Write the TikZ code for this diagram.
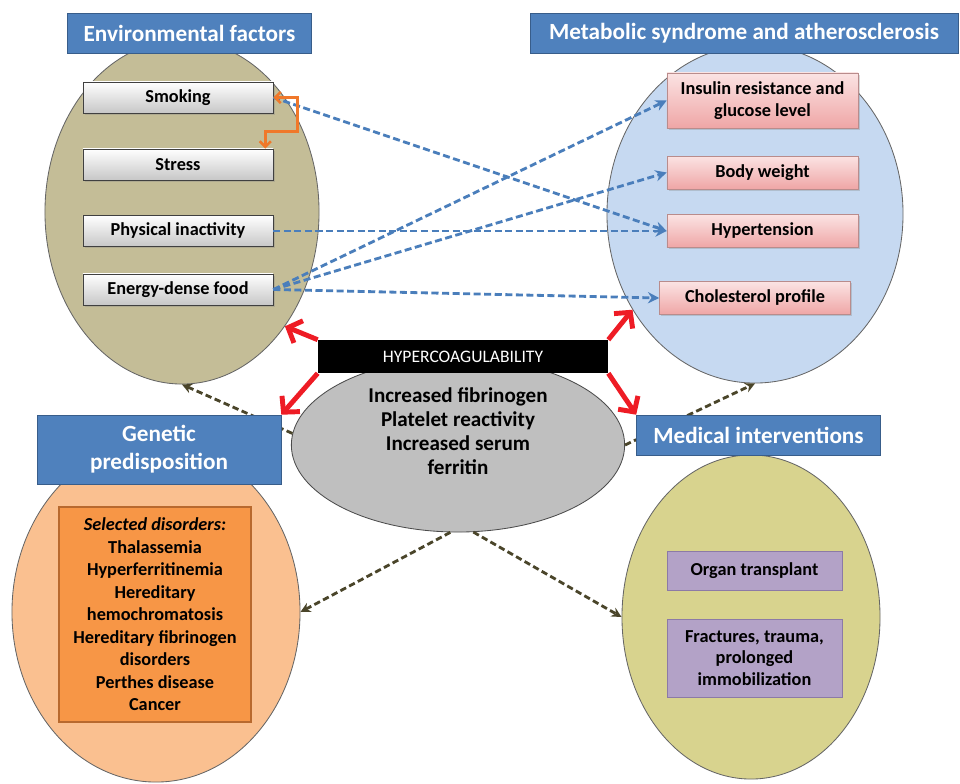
\documentclass[tikz,border=0pt]{standalone}
\usepackage{fontspec}
\setmainfont{Carlito}
\usepackage{tikz}
\usetikzlibrary{arrows.meta,shapes.geometric,shadows,positioning,calc}
\definecolor{titleblue}{HTML}{4F81BD}
\definecolor{titleborder}{HTML}{385D8A}
\definecolor{envtan}{HTML}{C4BD97}
\definecolor{metablue}{HTML}{C6D9F1}
\definecolor{genpeach}{HTML}{FAC090}
\definecolor{genorange}{HTML}{F79646}
\definecolor{genborder}{HTML}{B8692E}
\definecolor{medolive}{HTML}{D8D38E}
\definecolor{medpurple}{HTML}{B3A2C7}
\definecolor{medborder}{HTML}{8C7AA6}
\definecolor{riskborder}{HTML}{B98C8C}
\definecolor{risktop}{HTML}{FBE3E3}
\definecolor{riskbottom}{HTML}{EFA6A6}
\definecolor{linkblue}{HTML}{4A7EBB}
\definecolor{linkdark}{HTML}{4A452A}
\definecolor{hyperred}{HTML}{EE1C25}
\definecolor{smokeorange}{HTML}{F0782A}

\begin{document}
\begin{tikzpicture}[x=0.025cm,y=-0.025cm]
  \tikzset{group oval/.style={draw=black!60,line width=0.6pt,fill=#1,ellipse,inner sep=0pt},
    title box/.style={draw=titleborder,fill=titleblue,text=white,font=\fontsize{16.5}{20}\selectfont\bfseries,
      minimum width=6.1cm,minimum height=1cm,inner sep=0pt,align=center},
    factor box/.style={draw=black!75,top color=white,bottom color=black!22,minimum width=4.75cm,minimum height=0.78cm,
      inner sep=0pt,font=\fontsize{13}{16}\selectfont\bfseries,align=center,
      drop shadow={opacity=0.3,shadow xshift=1.2pt,shadow yshift=-1.2pt}},
    risk box/.style={draw=riskborder,top color=risktop,bottom color=riskbottom,minimum width=4.775cm,minimum height=0.82cm,
      inner sep=0pt,font=\fontsize{13}{16}\selectfont\bfseries,align=center,
      drop shadow={opacity=0.3,shadow xshift=1.2pt,shadow yshift=-1.2pt}},
    care box/.style={draw=medborder,fill=medpurple,minimum width=4.375cm,minimum height=0.975cm,
      inner sep=0pt,font=\fontsize{13}{15.5}\selectfont\bfseries,align=center},
    blue link/.style={draw=linkblue,line width=2pt,dash pattern=on 5pt off 2.5pt,-{Stealth[length=8pt,width=8pt]}},
    dark link/.style={draw=linkdark,line width=2pt,dash pattern=on 4.5pt off 2.5pt,-{Stealth[length=7pt,width=7pt]}},
    red arrow/.style={draw=hyperred,line width=3.5pt,-{Straight Barb[length=8pt,width=17pt]}}}%
  \useasboundingbox (0,0) rectangle (960,783);

  \node[group oval=envtan,minimum width=6.85cm,minimum height=8.6cm] (env) at (182,212) {};
  \node[group oval=metablue,minimum width=7.4cm,minimum height=8.45cm] (meta) at (755,214) {};
  \node[group oval=genpeach,minimum width=7.2cm,minimum height=8.5cm] (gen) at (156,612) {};
  \node[group oval=medolive,minimum width=6.45cm,minimum height=8.1cm] (med) at (751,617) {};
  \node[group oval=black!25,draw=black!70,minimum width=8.33cm,minimum height=4.35cm] (hyp) at (458,445) {};

  \draw[dark link] (hyp.176) -- (env.south);
  \draw[dark link] (hyp.east) -- (meta.south);
  \draw[dark link] (hyp.-95) -- (gen.east);
  \draw[dark link] (hyp.-80) -- (med.west);

  \node[title box] (envtitle) at (189.5,33.5) {Environmental factors};
  \node[title box,minimum width=10.7cm] (metatitle) at (744,33.5) {Metabolic syndrome and atherosclerosis};
  \node[title box,minimum height=1.725cm] (gentitle) at (159,449.5) {Genetic\\predisposition};
  \node[title box] (medtitle) at (758.5,435) {Medical interventions};

  \node[factor box] (smoke) at (178,97.5) {Smoking};
  \node[factor box] (stress) at (178,164.5) {Stress};
  \node[factor box] (phys) at (178,231) {Physical inactivity};
  \node[factor box] (food) at (178,289.5) {Energy-dense food};

  \node[risk box,minimum height=1.375cm] (insulin) at (762.5,100.5) {Insulin resistance and\\glucose level};
  \node[risk box] (weight) at (762.5,172.5) {Body weight};
  \node[risk box] (hyper) at (762.5,231) {Hypertension};
  \node[risk box] (chol) at (755,298) {Cholesterol profile};

  \node[draw=genborder,line width=1pt,fill=genorange,minimum width=4.8cm,minimum height=5.375cm,
    font=\fontsize{13}{16}\selectfont\bfseries,align=center] (disorders) at (155,614.5)
    {\textit{Selected disorders:}\\Thalassemia\\Hyperferritinemia\\Hereditary\\hemochromatosis\\
     Hereditary fibrinogen\\disorders\\Perthes disease\\Cancer};

  \node[care box] (organ) at (754.5,570.5) {Organ transplant};
  \node[care box,minimum height=1.95cm] (fracture) at (754.5,658) {Fractures, trauma,\\prolonged\\immobilization};

  \draw[blue link] (smoke.east) -- (hyper.west);
  \draw[blue link] (phys.east) -- (hyper.west);
  \draw[blue link] (food.east) -- (insulin.west);
  \draw[blue link] (food.east) -- (weight.west);
  \draw[blue link] (food.east) -- (chol.west);

  \draw[smokeorange,line width=1.8pt,{Straight Barb[length=4pt,width=8pt]}-{Straight Barb[length=4pt,width=8pt]}]
    (smoke.east) -- ++(24,0) |- ($(stress.north east)+(-8,-17)$) -- ($(stress.north east)+(-8,0)$);

  \node[font=\fontsize{15}{17}\selectfont\bfseries,align=center] (hyptext) at (458,431)
    {Increased fibrinogen\\Platelet reactivity\\Increased serum\\ferritin};

  \node[fill=black,text=white,minimum width=7.25cm,minimum height=0.825cm,inner sep=0pt,
    font=\fontsize{12.5}{14}\selectfont] (bar) at (463,356.5) {HYPERCOAGULABILITY};

  \draw[red arrow] (bar.north west) -- (env.-48);
  \draw[red arrow] (bar.north east) -- (meta.-142);
  \draw[red arrow] (bar.south west) -- (gentitle.north east);
  \draw[red arrow] (bar.south east) -- (medtitle.north west);
\end{tikzpicture}
\end{document}
